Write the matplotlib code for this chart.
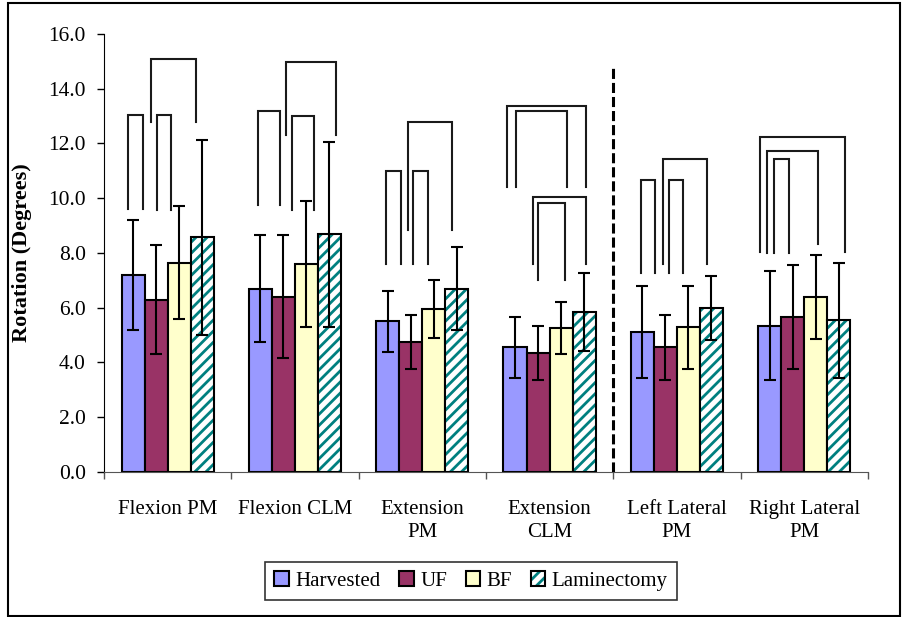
import numpy as np
import matplotlib
matplotlib.use("Agg")
import matplotlib.pyplot as plt
from matplotlib.patches import Patch, Rectangle
from matplotlib.legend_handler import HandlerTuple

plt.rcParams['font.family'] = ['Liberation Serif', 'DejaVu Serif']
plt.rcParams['hatch.linewidth'] = 2.0

categories = ["Flexion PM", "Flexion CLM", "Extension\nPM", "Extension\nCLM",
              "Left Lateral\nPM", "Right Lateral\nPM"]
groups = ["Harvested", "UF", "BF", "Laminectomy"]

harvested = [7.2, 6.7, 5.5, 4.55, 5.1, 5.35]
harvested_sd = [2.0, 1.95, 1.1, 1.1, 1.68, 2.0]
uf = [6.3, 6.4, 4.75, 4.35, 4.55, 5.65]
uf_sd = [2.0, 2.25, 1.0, 1.0, 1.18, 1.9]
bf = [7.65, 7.6, 5.95, 5.27, 5.28, 6.38]
bf_sd = [2.05, 2.3, 1.05, 0.95, 1.52, 1.53]
lam = [8.57, 8.68, 6.7, 5.84, 5.98, 5.55]
lam_sd = [3.56, 3.37, 1.53, 1.42, 1.17, 2.1]

# significance brackets: (category, left leg offset, right leg offset, top, left foot, right foot)
brackets = [
    (0, -0.312, -0.196, 13.05, 9.61, 9.61),
    (0, -0.082, 0.028, 13.05, 9.58, 9.58),
    (0, -0.131, 0.222, 15.09, 12.8, 12.8),
    (1, -0.291, -0.115, 13.2, 9.76, 9.76),
    (1, -0.021, 0.149, 13.0, 9.58, 9.58),
    (1, -0.073, 0.322, 14.99, 12.31, 12.31),
    (2, -0.285, -0.167, 10.99, 7.59, 7.59),
    (2, -0.071, 0.047, 10.99, 7.59, 7.59),
    (2, -0.115, 0.231, 12.79, 8.83, 8.83),
    (3, -0.333, 0.285, 13.37, 10.42, 10.42),
    (3, -0.265, 0.136, 13.19, 10.42, 10.42),
    (3, -0.131, 0.283, 10.03, 7.59, 7.59),
    (3, -0.094, 0.120, 9.82, 7.0, 7.0),
    (4, -0.285, -0.175, 10.67, 7.26, 7.26),
    (4, -0.063, 0.049, 10.67, 7.26, 7.26),
    (4, -0.108, 0.233, 11.44, 7.59, 7.59),
    (5, -0.348, 0.322, 12.25, 8.03, 8.03),
    (5, -0.295, 0.105, 11.74, 7.99, 8.32),
    (5, -0.238, -0.120, 11.44, 7.99, 7.99),
]

colors = ['#9999FF', '#993366', '#FFFFCC', 'white']
teal = '#008080'

fig = plt.figure(figsize=(9.04, 6.17), dpi=100)
ax = fig.add_axes([0.115, 0.235, 0.845, 0.71])

x = np.arange(len(categories))
w = 0.181
series = [(harvested, harvested_sd), (uf, uf_sd), (bf, bf_sd), (lam, lam_sd)]
for i, (vals, sd) in enumerate(series):
    pos = x + (i - 1.5) * w
    if groups[i] == "Laminectomy":
        ax.bar(pos, vals, w, color='white', edgecolor=teal, hatch='///', linewidth=0, zorder=2)
        ax.bar(pos, vals, w, fill=False, edgecolor='black', linewidth=1.5, zorder=3)
    else:
        ax.bar(pos, vals, w, color=colors[i], edgecolor='black', linewidth=1.5, zorder=2)
    ax.errorbar(pos, vals, yerr=sd, fmt='none', ecolor='black', elinewidth=1.5,
                capsize=4, capthick=1.5, zorder=4)

for g, xl, xr, top, fl, fr in brackets:
    ax.plot([g + xl, g + xl, g + xr, g + xr], [fl, top, top, fr],
            color='#1a1a1a', lw=1.5, solid_joinstyle='miter', zorder=5)

# divider between flexion/extension and lateral bending
ax.plot([3.5, 3.5], [0, 14.75], color='black', lw=2.2, ls=(0, (3.3, 1.3)), zorder=5)

ax.set_xlim(-0.5, 5.5)
ax.set_ylim(0, 16)
ax.set_yticks(np.arange(0, 16.1, 2))
ax.set_yticklabels([f"{v:.1f}" for v in np.arange(0, 16.1, 2)], fontsize=15.5)
ax.set_xticks(x)
ax.set_xticklabels(categories, fontsize=15, linespacing=1.3)
ax.set_xticks(np.arange(-0.5, 5.6, 1), minor=True)
ax.tick_params(axis='x', which='major', length=0, pad=20)
ax.tick_params(axis='x', which='minor', length=5, width=1, color='#555555', direction='out')
ax.tick_params(axis='y', length=5, width=1, direction='out', pad=8)

ax.spines['top'].set_visible(False)
ax.spines['right'].set_visible(False)
ax.spines['bottom'].set_color('#555555')
ax.spines['left'].set_color('black')

ax.set_ylabel("Rotation (Degrees)", fontsize=16, fontweight='bold')
ax.yaxis.set_label_coords(-0.094, 0.5)

handles = [Patch(facecolor=colors[0], edgecolor='black', lw=1.5),
           Patch(facecolor=colors[1], edgecolor='black', lw=1.5),
           Patch(facecolor=colors[2], edgecolor='black', lw=1.5),
           (Patch(facecolor='white', edgecolor=teal, hatch='///', lw=0),
            Patch(fill=False, edgecolor='black', lw=1.5))]
leg = fig.legend(handles, groups, loc='center', bbox_to_anchor=(0.521, 0.058), ncol=4,
                 fontsize=15, frameon=True, fancybox=False, edgecolor='black',
                 handlelength=0.7, handleheight=0.7, handletextpad=0.3,
                 columnspacing=0.9, borderpad=0.45,
                 handler_map={tuple: HandlerTuple(ndivide=1, pad=0)})
leg.get_frame().set_linewidth(1.2)

# border round the whole figure
fig.patches.append(Rectangle((8 / 904, 1 / 617), 892 / 904, 613 / 617, transform=fig.transFigure,
                             fill=False, edgecolor='black', lw=1.5))

fig.savefig("out.png", dpi=100)
